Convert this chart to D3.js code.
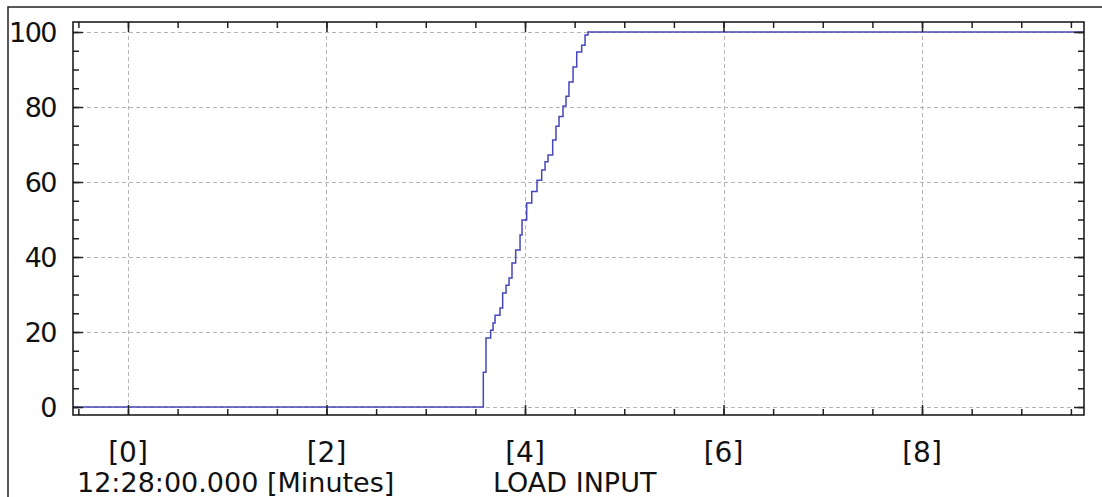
<!DOCTYPE html>
<html>
<head>
<meta charset="utf-8">
<script src="https://cdn.jsdelivr.net/npm/d3@7/dist/d3.min.js"></script>
<style>
  body { margin: 0; background: #fff; }
  svg { display: block; }
  text { font-family: "DejaVu Sans", Tahoma, sans-serif; fill: #111; }
</style>
</head>
<body>
<svg width="1102" height="497"></svg>
<script>
// DATA

// time in minutes (from 12:28:00.000), value after each step
var times = [-0.554, 3.580, 3.607, 3.654, 3.678, 3.698, 3.748, 3.775, 3.809, 3.839,
             3.869, 3.906, 3.950, 3.970, 4.017, 4.068, 4.121, 4.168, 4.202, 4.232,
             4.279, 4.312, 4.343, 4.383, 4.413, 4.443, 4.484, 4.521, 4.571, 4.605,
             4.635, 9.632];
var loadInput = [0, 9.3, 18.4, 20.5, 22.4, 24.5, 26.4, 30.4, 32.5, 34.4,
                 38.4, 41.9, 45.9, 49.9, 54.4, 57.5, 60.5, 63.2, 65.4, 67.2,
                 71.2, 74.9, 77.5, 80.3, 82.9, 86.7, 90.7, 94.7, 96.5, 99.2,
                 100, 100];

var xMajor = [0, 2, 4, 6, 8];
var xMinor = d3.range(-0.5, 9.6, 0.5);
var yMajor = [0, 20, 40, 60, 80, 100];
var yMinor = d3.range(0, 101, 5);

var timeLabel = "12:28:00.000 [Minutes]";
var seriesLabel = "LOAD INPUT";

// VIEW

var svg = d3.select("svg");

var plot = {left: 73, top: 22, right: 1084, bottom: 415};

var x = d3.scaleLinear().domain([-0.554, 9.632]).range([plot.left, plot.right]);
var y = d3.scaleLinear().domain([-2.13, 102.67]).range([plot.bottom, plot.top]);

// outer frame (top and left edge only)
svg.append("path")
    .attr("d", "M8,497V7H1102")
    .attr("fill", "none")
    .attr("stroke", "#222")
    .attr("stroke-width", 1.5);

// grid
var grid = svg.append("g")
    .attr("stroke", "#b4b4b4")
    .attr("stroke-width", 1)
    .attr("stroke-dasharray", "4,3");

grid.selectAll(".gx").data(xMajor).enter().append("line")
    .attr("x1", function(d) { return Math.round(x(d)) + 0.5; })
    .attr("x2", function(d) { return Math.round(x(d)) + 0.5; })
    .attr("y1", plot.top)
    .attr("y2", plot.bottom);

grid.selectAll(".gy").data(yMajor).enter().append("line")
    .attr("y1", function(d) { return Math.round(y(d)) + 0.5; })
    .attr("y2", function(d) { return Math.round(y(d)) + 0.5; })
    .attr("x1", plot.left)
    .attr("x2", plot.right);

// series line
var line = d3.line()
    .x(function(d) { return x(d[0]); })
    .y(function(d) { return y(d[1]); })
    .curve(d3.curveStepAfter);

svg.append("path")
    .datum(d3.zip(times, loadInput))
    .attr("fill", "none")
    .attr("stroke", "#4646bc")
    .attr("stroke-width", 1.5)
    .attr("d", line);

// tick marks on all four sides (pointing inward)
function ticks(axis, transform) {
  var g = svg.append("g").attr("transform", transform).call(axis);
  g.select(".domain").remove();
  g.selectAll("text").remove();
  g.selectAll("line").attr("stroke", "#222").attr("stroke-width", 1.5);
}

ticks(d3.axisTop(x).tickValues(xMinor).tickSize(6), "translate(0," + plot.bottom + ")");
ticks(d3.axisTop(x).tickValues(xMajor).tickSize(10), "translate(0," + plot.bottom + ")");
ticks(d3.axisBottom(x).tickValues(xMinor).tickSize(6), "translate(0," + plot.top + ")");
ticks(d3.axisBottom(x).tickValues(xMajor).tickSize(10), "translate(0," + plot.top + ")");
ticks(d3.axisRight(y).tickValues(yMinor).tickSize(6), "translate(" + plot.left + ",0)");
ticks(d3.axisRight(y).tickValues(yMajor).tickSize(10), "translate(" + plot.left + ",0)");
ticks(d3.axisLeft(y).tickValues(yMinor).tickSize(6), "translate(" + plot.right + ",0)");
ticks(d3.axisLeft(y).tickValues(yMajor).tickSize(10), "translate(" + plot.right + ",0)");

// plot frame
svg.append("rect")
    .attr("x", plot.left)
    .attr("y", plot.top)
    .attr("width", plot.right - plot.left)
    .attr("height", plot.bottom - plot.top)
    .attr("fill", "none")
    .attr("stroke", "#111")
    .attr("stroke-width", 1.5);

// tick labels
svg.append("g").selectAll("text").data(yMajor).enter().append("text")
    .attr("x", 56)
    .attr("y", function(d) { return y(d); })
    .attr("dy", "0.37em")
    .attr("text-anchor", "end")
    .attr("font-size", 27)
    .attr("letter-spacing", -1.5)
    .text(function(d) { return d; });

svg.append("g").selectAll("text").data(xMajor).enter().append("text")
    .attr("x", function(d) { return x(d); })
    .attr("y", 462)
    .attr("text-anchor", "middle")
    .attr("font-size", 28)
    .text(function(d) { return "[" + d + "]"; });

// bottom captions
svg.append("text")
    .attr("x", 77)
    .attr("y", 492)
    .attr("font-size", 27)
    .text(timeLabel);

svg.append("text")
    .attr("x", 493)
    .attr("y", 492)
    .attr("font-size", 27)
    .text(seriesLabel);
</script>
</body>
</html>
